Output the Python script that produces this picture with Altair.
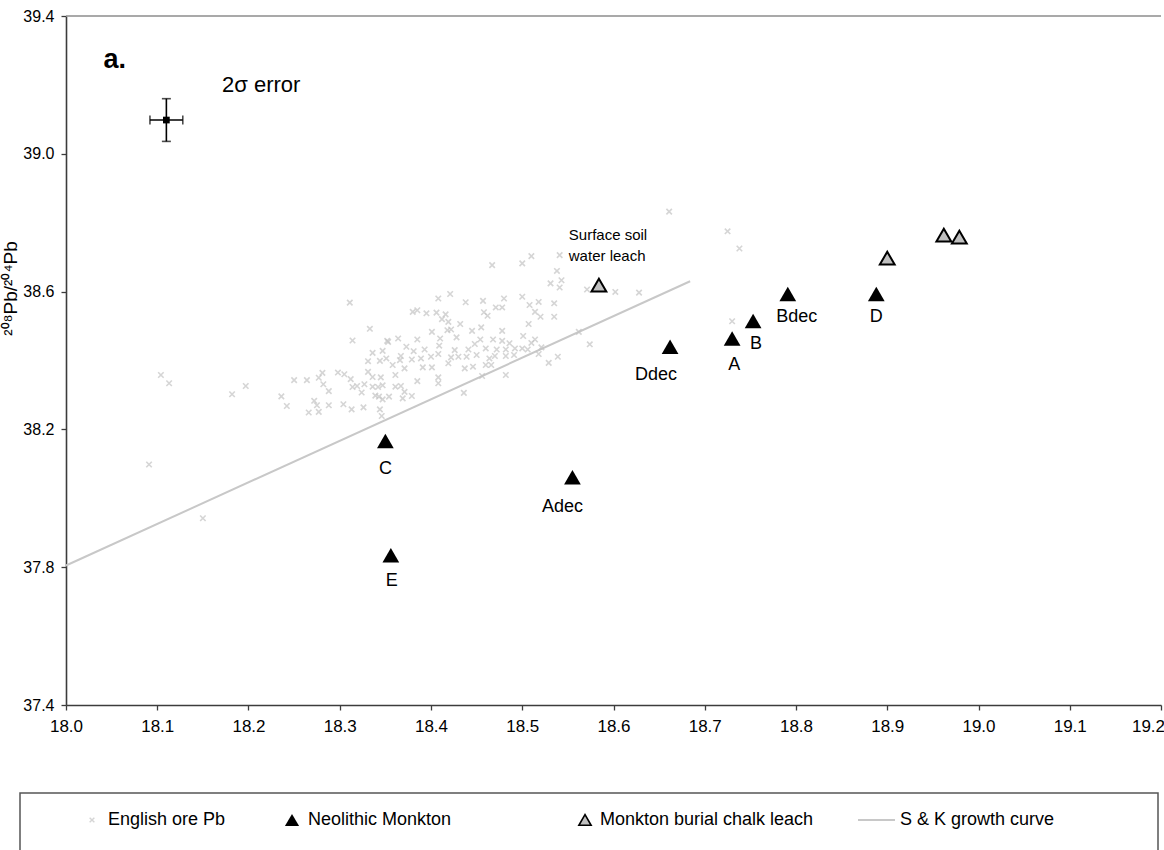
import altair as alt
import pandas as pd

# English ore lead (208Pb/204Pb vs 206Pb/204Pb)
ore_x = [18.104, 18.113, 18.091, 18.150, 18.182, 18.197, 18.236, 18.242, 18.250, 18.264,
         18.266, 18.311, 18.333, 18.314, 18.352, 18.336, 18.347, 18.331, 18.344, 18.351,
         18.331, 18.336, 18.345, 18.277, 18.281, 18.298, 18.305, 18.282, 18.288, 18.312,
         18.314, 18.319, 18.327, 18.324, 18.336, 18.342, 18.339, 18.347, 18.343, 18.272,
         18.275, 18.277, 18.288, 18.304, 18.313, 18.326, 18.344, 18.346, 18.347, 18.467,
         18.421, 18.408, 18.438, 18.457, 18.380, 18.385, 18.395, 18.406, 18.416, 18.412,
         18.419, 18.432, 18.458, 18.462, 18.353, 18.364, 18.385, 18.401, 18.418, 18.422,
         18.445, 18.455, 18.373, 18.410, 18.428, 18.454, 18.367, 18.381, 18.393, 18.409,
         18.426, 18.441, 18.448, 18.460, 18.358, 18.366, 18.379, 18.389, 18.400, 18.408,
         18.422, 18.430, 18.439, 18.450, 18.464, 18.371, 18.391, 18.401, 18.419, 18.437,
         18.446, 18.460, 18.361, 18.385, 18.408, 18.408, 18.456, 18.361, 18.367, 18.371,
         18.379, 18.369, 18.436, 18.354, 18.510, 18.541, 18.500, 18.538, 18.531, 18.543,
         18.541, 18.571, 18.480, 18.500, 18.471, 18.478, 18.508, 18.518, 18.514, 18.520,
         18.535, 18.535, 18.507, 18.478, 18.501, 18.514, 18.468, 18.478, 18.486, 18.510,
         18.472, 18.482, 18.492, 18.500, 18.506, 18.521, 18.470, 18.482, 18.491, 18.518,
         18.466, 18.482, 18.529, 18.539, 18.562, 18.574, 18.661, 18.725, 18.738, 18.602,
         18.628, 18.730]
ore_y = [38.358, 38.334, 38.098, 37.942, 38.302, 38.326, 38.296, 38.268, 38.343, 38.343,
         38.249, 38.568, 38.492, 38.458, 38.457, 38.422, 38.428, 38.398, 38.399, 38.406,
         38.367, 38.352, 38.351, 38.350, 38.364, 38.365, 38.360, 38.331, 38.311, 38.346,
         38.323, 38.326, 38.331, 38.307, 38.324, 38.323, 38.298, 38.328, 38.295, 38.283,
         38.270, 38.251, 38.270, 38.273, 38.258, 38.264, 38.258, 38.239, 38.287, 38.677,
         38.593, 38.580, 38.569, 38.573, 38.541, 38.546, 38.537, 38.539, 38.534, 38.520,
         38.512, 38.506, 38.540, 38.530, 38.454, 38.464, 38.461, 38.483, 38.488, 38.490,
         38.486, 38.496, 38.440, 38.464, 38.467, 38.461, 38.413, 38.427, 38.432, 38.443,
         38.430, 38.432, 38.448, 38.435, 38.387, 38.401, 38.403, 38.406, 38.411, 38.419,
         38.409, 38.411, 38.411, 38.416, 38.406, 38.377, 38.380, 38.380, 38.392, 38.377,
         38.382, 38.387, 38.358, 38.340, 38.351, 38.334, 38.355, 38.324, 38.326, 38.309,
         38.297, 38.290, 38.306, 38.295, 38.703, 38.706, 38.682, 38.660, 38.624, 38.633,
         38.612, 38.606, 38.580, 38.585, 38.554, 38.554, 38.561, 38.570, 38.541, 38.527,
         38.566, 38.527, 38.506, 38.486, 38.471, 38.461, 38.461, 38.457, 38.450, 38.451,
         38.432, 38.432, 38.435, 38.435, 38.432, 38.438, 38.413, 38.413, 38.416, 38.419,
         38.387, 38.358, 38.393, 38.411, 38.483, 38.447, 38.832, 38.775, 38.725, 38.599,
         38.597, 38.514]

# Neolithic Monkton samples
neo_label = ["C", "E", "Adec", "Ddec", "A", "B", "Bdec", "D"]
neo_x = [18.350, 18.356, 18.555, 18.662, 18.730, 18.753, 18.791, 18.888]
neo_y = [38.166, 37.835, 38.061, 38.440, 38.464, 38.515, 38.593, 38.593]

# Monkton burial chalk leaches (first one is the surface soil water leach)
chalk_x = [18.584, 18.900, 18.962, 18.979]
chalk_y = [38.619, 38.697, 38.764, 38.758]

# Stacey & Kramers growth curve segment
sk_x = [18.000, 18.684]
sk_y = [37.805, 38.630]

# 2-sigma error cross
err_x, err_y = 18.110, 39.098
err_dx, err_dy = 0.018, 0.062

x_ticks = [18.0, 18.1, 18.2, 18.3, 18.4, 18.5, 18.6, 18.7, 18.8, 18.9, 19.0, 19.1, 19.2]
y_ticks = [37.4, 37.8, 38.2, 38.6, 39.0, 39.4]

# label placement (pixel offsets from each triangle)
label_dx = {"C": 0, "E": 1, "Adec": -10, "Ddec": -14, "A": 2, "B": 3, "Bdec": 9, "D": 0}
label_dy = {"C": 28, "E": 26, "Adec": 30, "Ddec": 28, "A": 27, "B": 23, "Bdec": 23, "D": 23}

FONT = "Liberation Sans"
LEFT, TOP = 66, 16
W, H = 1095, 689

xs = alt.Scale(domain=[18.0, 19.2], nice=False, zero=False)
ys = alt.Scale(domain=[37.4, 39.4], nice=False, zero=False)

X = lambda f: alt.X(f, type="quantitative", scale=xs,
                    axis=alt.Axis(values=x_ticks, format=".1f", title=None, grid=False,
                                  labelFontSize=17, labelFont=FONT, labelColor="black",
                                  labelFlush=False,
                                  # keep the last label inside the canvas
                                  labelOffset=alt.expr("datum.value > 19.15 ? -13 : 0"),
                                  domainColor="#3c3c3c", domainWidth=1.6, tickColor="#3c3c3c",
                                  tickWidth=1.3, tickSize=5, labelPadding=8))
Y = lambda f: alt.Y(f, type="quantitative", scale=ys,
                    axis=alt.Axis(values=y_ticks, format=".1f", grid=False,
                                  title="²⁰⁸Pb/²⁰⁴Pb", titleFont=FONT, titleFontSize=19,
                                  titleFontWeight="normal", titleColor="black",
                                  titleAngle=-90, titleX=-56, titleY=272, titleAlign="center",
                                  titleBaseline="middle",
                                  labelFontSize=16, labelFont=FONT, labelColor="black",
                                  domainColor="#3c3c3c", domainWidth=1.6, tickColor="#3c3c3c",
                                  tickWidth=1.3, tickSize=5, labelPadding=7))

ore = pd.DataFrame({"x": ore_x, "y": ore_y})
neo = pd.DataFrame({"x": neo_x, "y": neo_y, "label": neo_label})
chalk = pd.DataFrame({"x": chalk_x, "y": chalk_y})
sk = pd.DataFrame({"x": sk_x, "y": sk_y})

CROSS = "M-1,-1L1,1M1,-1L-1,1"

top_line = alt.Chart(pd.DataFrame({"y": [39.4]})).mark_rule(
    color="#8c8c8c", strokeWidth=1.5).encode(y=Y("y"), x=alt.value(0), x2=alt.value(W))

curve = alt.Chart(sk).mark_line(color="#c8c8c8", strokeWidth=2).encode(x=X("x"), y=Y("y"))

ore_pts = alt.Chart(ore).mark_point(shape=CROSS, filled=False, color="#c4c4c4",
                                    strokeWidth=1.6, size=30).encode(x=X("x"), y=Y("y"))

neo_pts = alt.Chart(neo).mark_point(shape="triangle-up", filled=True, color="black",
                                    opacity=1, size=280).encode(x=X("x"), y=Y("y"))

chalk_pts = alt.Chart(chalk).mark_point(shape="triangle-up", filled=True, fill="#c0c0c0",
                                        stroke="black", strokeWidth=2, opacity=1,
                                        size=220).encode(x=X("x"), y=Y("y"))

labels = []
for lab in neo_label:
    labels.append(
        alt.Chart(neo[neo["label"] == lab]).mark_text(
            font=FONT, fontSize=18, color="black", baseline="middle", align="center",
            dx=label_dx[lab], dy=label_dy[lab]).encode(x=X("x"), y=Y("y"), text="label:N"))

# error cross
err_h = alt.Chart(pd.DataFrame({"x": [err_x - err_dx], "x2": [err_x + err_dx], "y": [err_y]})
                  ).mark_rule(color="black", strokeWidth=1.6).encode(x=X("x"), x2="x2", y=Y("y"))
err_v = alt.Chart(pd.DataFrame({"x": [err_x], "y": [err_y - err_dy], "y2": [err_y + err_dy]})
                  ).mark_rule(color="black", strokeWidth=1.6).encode(x=X("x"), y=Y("y"), y2="y2")
err_cap_v = alt.Chart(pd.DataFrame({"x": [err_x, err_x], "y": [err_y - err_dy, err_y + err_dy]})
                      ).mark_tick(orient="horizontal", color="black", thickness=1.6, size=9
                                  ).encode(x=X("x"), y=Y("y"))
err_cap_h = alt.Chart(pd.DataFrame({"x": [err_x - err_dx, err_x + err_dx], "y": [err_y, err_y]})
                      ).mark_tick(orient="vertical", color="black", thickness=1.6, size=9
                                  ).encode(x=X("x"), y=Y("y"))
err_pt = alt.Chart(pd.DataFrame({"x": [err_x], "y": [err_y]})).mark_point(
    shape="square", filled=True, color="black", opacity=1, size=45).encode(x=X("x"), y=Y("y"))

# annotations
notes = pd.DataFrame({
    "x": [18.041, 18.171, 18.551, 18.551],
    "y": [39.25, 39.179, 38.750, 38.690],
    "t": ["a.", "2σ error", "Surface soil", "water leach"],
    "size": [27, 22, 15, 15],
    "weight": ["bold", "normal", "normal", "normal"],
})
note_marks = []
for i in range(len(notes)):
    row = notes.iloc[[i]]
    note_marks.append(alt.Chart(row).mark_text(
        font=FONT, fontSize=int(row["size"].iloc[0]), fontWeight=row["weight"].iloc[0],
        color="black", align="left", baseline="alphabetic").encode(
        x=X("x"), y=Y("y"), text="t:N"))

# legend panel below the plot (pixel positions relative to the plot origin)
LY = 820 - TOP
leg_box = alt.Chart(pd.DataFrame({"a": [0]})).mark_rect(
    fill="white", stroke="#555555", strokeWidth=1.5, clip=False).encode(
    x=alt.value(20 - LEFT), x2=alt.value(1158 - LEFT), y=alt.value(793 - TOP), y2=alt.value(880))
leg_ore = alt.Chart(pd.DataFrame({"a": [0]})).mark_point(
    shape=CROSS, filled=False, color="#c4c4c4", strokeWidth=1.4, size=22, clip=False).encode(
    x=alt.value(92 - LEFT), y=alt.value(LY))
leg_neo = alt.Chart(pd.DataFrame({"a": [0]})).mark_point(
    shape="triangle-up", filled=True, color="black", opacity=1, size=200, clip=False).encode(
    x=alt.value(292 - LEFT), y=alt.value(LY))
leg_chalk = alt.Chart(pd.DataFrame({"a": [0]})).mark_point(
    shape="triangle-up", filled=True, fill="#c0c0c0", stroke="black", strokeWidth=1.6,
    opacity=1, size=150, clip=False).encode(x=alt.value(585 - LEFT), y=alt.value(LY))
leg_line = alt.Chart(pd.DataFrame({"a": [0]})).mark_rule(
    color="#c8c8c8", strokeWidth=2, clip=False).encode(
    x=alt.value(858 - LEFT), x2=alt.value(895 - LEFT), y=alt.value(LY))
leg_text = alt.Chart(pd.DataFrame({
    "px": [108 - LEFT, 308 - LEFT, 600 - LEFT, 900 - LEFT],
    "t": ["English ore Pb", "Neolithic Monkton", "Monkton burial chalk leach", "S & K growth curve"],
})).mark_text(font=FONT, fontSize=18, color="black", align="left", baseline="middle",
              clip=False).encode(x=alt.X("px:Q", scale=None), y=alt.value(LY), text="t:N")

chart = alt.layer(
    top_line, curve, ore_pts, neo_pts, chalk_pts, *labels,
    err_h, err_v, err_cap_v, err_cap_h, err_pt, *note_marks,
    leg_box, leg_ore, leg_neo, leg_chalk, leg_line, leg_text,
).properties(
    width=W, height=H,
    autosize=alt.AutoSizeParams(type="none"),
    padding={"left": LEFT, "top": TOP, "right": 1164 - LEFT - W, "bottom": 850 - TOP - H},
    background="white",
).configure_view(stroke=None)

chart.save("out.html", embed_options={"renderer": "svg", "actions": False})
